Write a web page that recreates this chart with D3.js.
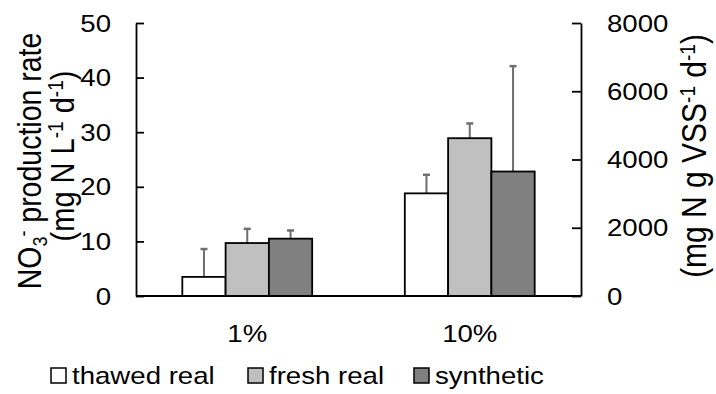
<!DOCTYPE html>
<html>
<head>
<meta charset="utf-8">
<script src="https://cdn.jsdelivr.net/npm/d3@7"></script>
<style>
  body { margin: 0; background: #fff; }
  text { font-family: "Liberation Sans", Arial, sans-serif; fill: #000; }
</style>
</head>
<body>
<div id="chart"></div>
<script>
var width = 716;
var height = 394;

// data
var categories = ["1%", "10%"];
var seriesNames = ["thawed real", "fresh real", "synthetic"];
var thawed = [3.5, 18.8];
var fresh = [9.7, 28.9];
var synthetic = [10.5, 22.8];
var thawedErr = [5.1, 3.4];
var freshErr = [2.6, 2.7];
var syntheticErr = [1.5, 19.3];
var leftTicks = [0, 10, 20, 30, 40, 50];
var rightTicks = [0, 2000, 4000, 6000, 8000];
var fills = ["#ffffff", "#c0c0c0", "#808080"];

var SX = 1.15; // the picture is a little wider than tall

var svg = d3.select("#chart").append("svg")
    .attr("width", width)
    .attr("height", height);

var x = d3.scaleBand().domain(categories).range([136, 581]).padding(0);
var xInner = d3.scaleBand().domain(seriesNames)
    .range([0, x.bandwidth()]).paddingInner(0).paddingOuter(1.07);
var yL = d3.scaleLinear().domain([0, 50]).range([296, 23]);
var yR = d3.scaleLinear().domain([0, 8000]).range([296, 23]);

// rows built from the arrays
var rows = [];
categories.forEach(function(c, i) {
    rows.push({cat: c, s: 0, v: thawed[i], e: thawedErr[i]});
    rows.push({cat: c, s: 1, v: fresh[i], e: freshErr[i]});
    rows.push({cat: c, s: 2, v: synthetic[i], e: syntheticErr[i]});
});

// helper for stretched text
function stext(px, py, size, anchor, rot) {
    var g = svg.append("g")
        .attr("transform", "translate(" + px + "," + py + ") scale(" + SX + ",1)" + (rot ? " rotate(" + rot + ")" : ""));
    return g.append("text")
        .attr("font-size", size)
        .style("text-anchor", anchor);
}

// error bars (behind bars)
var eb = svg.append("g").attr("stroke", "#6e6e6e").attr("stroke-width", 2);
rows.forEach(function(d) {
    var cx = x(d.cat) + xInner(seriesNames[d.s]) + xInner.bandwidth() / 2;
    eb.append("line").attr("x1", cx).attr("x2", cx)
        .attr("y1", yL(d.v)).attr("y2", yL(d.v + d.e));
    eb.append("line").attr("x1", cx - 3.5).attr("x2", cx + 3.5)
        .attr("y1", yL(d.v + d.e)).attr("y2", yL(d.v + d.e))
        .attr("stroke-width", 2.5);
});

// bars
svg.append("g").selectAll("rect")
    .data(rows)
    .enter()
    .append("rect")
    .attr("x", function(d) { return x(d.cat) + xInner(seriesNames[d.s]); })
    .attr("y", function(d) { return yL(d.v); })
    .attr("width", xInner.bandwidth())
    .attr("height", function(d) { return yL(0) - yL(d.v); })
    .attr("fill", function(d) { return fills[d.s]; })
    .attr("stroke", "#000")
    .attr("stroke-width", 1.8);

// axes
var leftAxis = d3.axisLeft(yL).tickValues(leftTicks).tickSizeInner(-8).tickSizeOuter(0).tickFormat("");
var rightAxis = d3.axisRight(yR).tickValues(rightTicks).tickSizeInner(-9).tickSizeOuter(0).tickFormat("");
var gl = svg.append("g").attr("transform", "translate(136,0)").call(leftAxis);
var gr = svg.append("g").attr("transform", "translate(581,0)").call(rightAxis);
[gl, gr].forEach(function(g) {
    g.selectAll("path, line").attr("stroke", "#000").attr("stroke-width", 1.8);
});
svg.append("line")
    .attr("x1", 136).attr("x2", 581)
    .attr("y1", yL(0)).attr("y2", yL(0))
    .attr("stroke", "#000").attr("stroke-width", 2);

// tick labels
leftTicks.forEach(function(t) {
    stext(111, yL(t) + 8.5, 24, "end").text(t);
});
rightTicks.forEach(function(t) {
    stext(607, yR(t) + 8.5, 24, "start").text(t);
});

// category labels
categories.forEach(function(c) {
    stext(x(c) + x.bandwidth() / 2, 341.5, 24, "middle").text(c);
});

// left axis title
var t1 = stext(41, 161, 28.5, "middle", -90);
t1.append("tspan").text("NO");
t1.append("tspan").attr("font-size", 18).attr("dy", 5).text("3");
t1.append("tspan").attr("font-size", 18).attr("dy", -15).text("-");
t1.append("tspan").attr("dy", 10).text(" production rate");

var t2 = stext(74, 156, 29, "middle", -90);
t2.append("tspan").text("(mg N L");
t2.append("tspan").attr("font-size", 19).attr("dy", -10).text("-1");
t2.append("tspan").attr("dy", 10).text(" d");
t2.append("tspan").attr("font-size", 19).attr("dy", -10).text("-1");
t2.append("tspan").attr("dy", 10).text(")");

// right axis title
var t3 = stext(706, 156, 30, "middle", -90);
t3.append("tspan").text("(mg N g VSS");
t3.append("tspan").attr("font-size", 19).attr("dy", -10).text("-1");
t3.append("tspan").attr("dy", 10).text(" d");
t3.append("tspan").attr("font-size", 19).attr("dy", -10).text("-1");
t3.append("tspan").attr("dy", 10).text(")");

// legend
var legendX = [51, 248, 414];
seriesNames.forEach(function(s, i) {
    svg.append("rect")
        .attr("x", legendX[i]).attr("y", 368)
        .attr("width", 15).attr("height", 15)
        .attr("fill", fills[i])
        .attr("stroke", "#000").attr("stroke-width", 1.5);
    stext(legendX[i] + 21, 384, 24, "start").text(s);
});
</script>
</body>
</html>
